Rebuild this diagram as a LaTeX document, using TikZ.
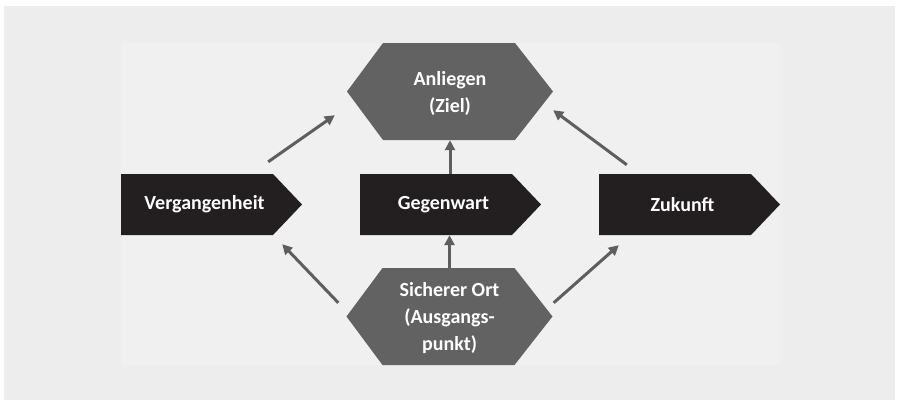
\documentclass[tikz,border=0pt]{standalone}
\usepackage{fontspec}
\setmainfont{Carlito}
\usetikzlibrary{arrows.meta,calc}
\definecolor{outerbg}{HTML}{EDEDED}
\definecolor{innerbg}{HTML}{F0F0F0}
\definecolor{hexgray}{HTML}{626262}
\definecolor{penblack}{HTML}{231F20}
\definecolor{arrgray}{HTML}{5E5E5E}
\tikzset{
  lbl/.style={text=white, font=\bfseries\fontsize{20}{27}\selectfont, align=center, inner sep=0pt},
  hexbox/.style={minimum width=206pt, minimum height=97pt, inner sep=0pt,
    path picture={
      \fill[hexgray]
        ($(path picture bounding box.west)$) --
        ($(path picture bounding box.north west)+(36pt,0)$) --
        ($(path picture bounding box.north east)+(-38pt,0)$) --
        ($(path picture bounding box.east)$) --
        ($(path picture bounding box.south east)+(-38pt,0)$) --
        ($(path picture bounding box.south west)+(36pt,0)$) -- cycle;
    }},
  penbox/.style={lbl, minimum width=181pt, minimum height=61pt,
    path picture={
      \fill[penblack]
        ($(path picture bounding box.north west)$) --
        ($(path picture bounding box.north east)+(-29pt,0)$) --
        ($(path picture bounding box.east)$) --
        ($(path picture bounding box.south east)+(-29pt,0)$) --
        ($(path picture bounding box.south west)$) -- cycle;
    }},
  arr/.style={draw=arrgray, line width=3pt, -{Triangle[length=10pt,width=10pt]}, arrgray},
}
\begin{document}
\begin{tikzpicture}[x=1pt,y=-1pt]
  \useasboundingbox (0,0) rectangle (898,400);
  \fill[white] (0,0) rectangle (898,400);
  \fill[outerbg] (4,6) rectangle (895,400);
  \fill[innerbg] (121,43) rectangle (780,365);

  \node[hexbox] (ziel) at (450,91.5) {};
  \node[lbl] (zieltext) at ([yshift=-2pt]ziel.center) {Anliegen\\(Ziel)};
  \node[hexbox] (ort) at (449.5,316.5) {};
  \node[lbl] (orttext) at ([yshift=-2pt]ort.center) {Sicherer Ort\\(Ausgangs-\\punkt)};
  \node[penbox] (verg) at (211.5,204.5) {\hspace*{-14pt}Vergangenheit};
  \node[penbox] (gegen) at (450.5,204.5) {\hspace*{-14pt}Gegenwart};
  \node[penbox] (zuk) at (689.5,204.5) {\hspace*{-14pt}Zukunft};

  \draw[arr] ([shift={(-34,-12)}]verg.north east) -- ([shift={(-12,-25)}]ziel.south west);
  \draw[arr] ([shift={(28,-9)}]zuk.north west) -- ([shift={(0,-30)}]ziel.south east);
  \draw[arr] (gegen.north -| ziel.south) -- (ziel.south);
  \draw[arr] (ort.north) -- (ort.north |- gegen.south);
  \draw[arr] ([shift={(-8,35)}]ort.north west) -- ([shift={(-20,9)}]verg.south east);
  \draw[arr] ([shift={(1,35)}]ort.north east) -- ([shift={(20,10)}]zuk.south west);
\end{tikzpicture}
\end{document}
